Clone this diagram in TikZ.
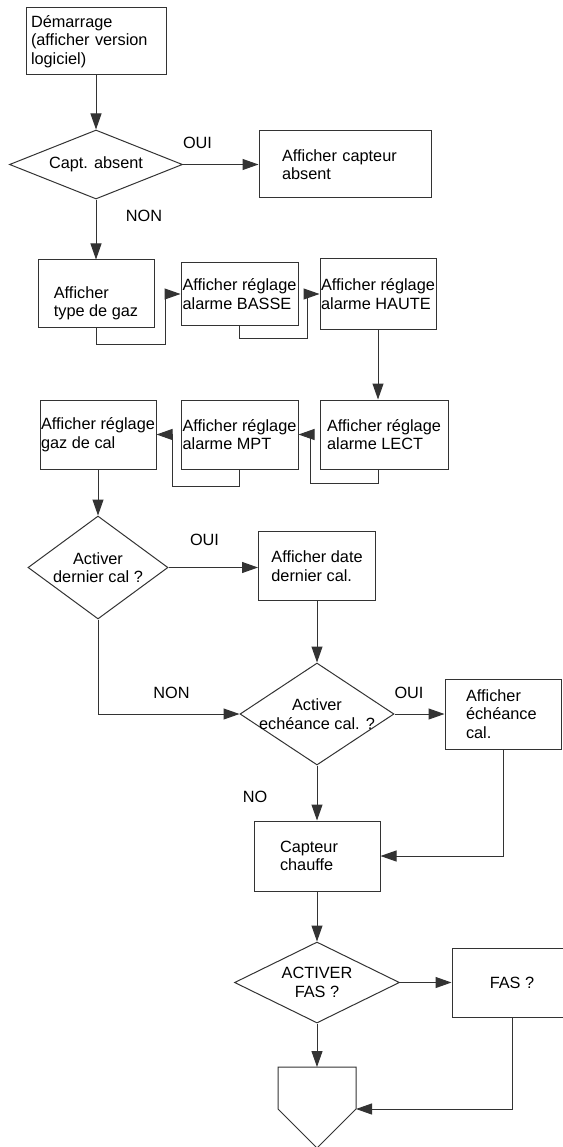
\documentclass[tikz,border=0pt]{standalone}
\usepackage{fontspec}
\setmainfont{Liberation Sans}
\usetikzlibrary{arrows.meta,shapes.geometric}
\tikzset{
  >={Triangle[length=16pt,width=11pt]},
  font=\fontsize{16.3pt}{18.5pt}\selectfont,
  boite/.style ={draw=black!80, line width=1pt, rectangle, inner sep=0pt, align=left},
  choix/.style ={draw=black!80, line width=1pt, diamond, aspect=1.5, inner xsep=-20pt, inner ysep=0pt, align=center},
  lien/.style  ={draw=black!80, line width=1pt},
  arr/.style   ={->, lien},
  lbl/.style   ={inner sep=0pt},
}

\begin{document}
\begin{tikzpicture}[x=1pt, y=-1pt]
  \path[use as bounding box, fill=white] (0,0) rectangle (562,1147);

  % demarrage
  \node[boite, minimum width=140pt, minimum height=67pt, text width=130pt, inner xsep=5pt] (demarrage) at (96,41.5) {Démarrage\\(afficher version\\logiciel)};
  \node[choix, minimum width=173pt, minimum height=69pt] (absent) at (96,164.5) {Capt. absent};
  \node[boite, minimum width=172pt, minimum height=67pt, text width=126pt, inner xsep=23pt] (capabs) at (345,164.5) {Afficher capteur\\absent};

  % reglages
  \node[boite, minimum width=116pt, minimum height=67pt] (typegaz) at (96,293.5) {\rule{0pt}{31pt}Afficher\\type de gaz};
  \node[boite, minimum width=117pt, minimum height=62pt] (basse) at (239.5,294) {Afficher réglage\\alarme BASSE};
  \node[boite, minimum width=116pt, minimum height=70pt] (haute) at (378,294) {Afficher réglage\\alarme HAUTE};
  \node[boite, minimum width=128pt, minimum height=69pt] (lect) at (384,434.5) {Afficher réglage\\alarme LECT};
  \node[boite, minimum width=117pt, minimum height=69pt] (mpt) at (239.5,434.5) {Afficher réglage\\alarme MPT};
  \node[boite, minimum width=116pt, minimum height=69pt] (calgaz) at (98,434.5) {Afficher réglage\\gaz de cal};

  % calibrage
  \node[choix, minimum width=140pt, minimum height=103pt] (dercal) at (98,567.5) {Activer\\dernier cal ?};
  \node[boite, minimum width=117pt, minimum height=69pt] (datecal) at (317,566) {Afficher date\\dernier cal.};
  \node[choix, minimum width=154pt, minimum height=102pt] (echcal) at (317,714) {Activer\\echéance cal. ?};
  \node[boite, minimum width=116pt, minimum height=70pt, text width=74pt, inner xsep=21pt] (echaff) at (503,714) {Afficher\\échéance\\cal.};
  \node[boite, minimum width=126pt, minimum height=70pt, text width=74pt, inner xsep=26pt] (chauffe) at (317,856) {Capteur\\chauffe};

  % FAS
  \node[choix, minimum width=165pt, minimum height=81pt] (actfas) at (317,982.5) {ACTIVER\\FAS ?};
  \node[boite, minimum width=120pt, minimum height=69pt, align=center] (fas) at (512,982.5) {FAS ?};
  \coordinate (renvoi) at (317,1067);
  \coordinate (renvoiE) at (356,1109);
  \draw[lien] (278,1067) -- (356,1067) -- (renvoiE) -- (317,1148) -- (278,1109) -- cycle;

  \node[lbl] (oui1) at (197.5,143) {OUI};
  \node[lbl] (non1) at (144,216) {NON};
  \node[lbl] (oui2) at (204.5,540) {OUI};
  \node[lbl] (non2) at (171.5,693) {NON};
  \node[lbl] (oui3) at (409,693) {OUI};
  \node[lbl] (no) at (255,797) {NO};

  \draw[arr] (demarrage) -- (absent);
  \draw[arr] (absent) -- (capabs);
  \draw[arr] (absent) -- (typegaz);
  \draw[arr] (typegaz.south) -- ++(0,17) -| ([xshift=-15pt]basse.west) -- (basse.west);
  \draw[arr] (basse.south) -- ++(0,13) -| ([xshift=-12pt]haute.west) -- (haute.west);
  \draw[arr] (haute) -- (haute |- lect.north);
  \draw[arr] (haute |- lect.south) -- ++(0,14) -| ([xshift=12pt]mpt.east) -- (mpt.east);
  \draw[arr] (mpt.south) -- ++(0,17) -| ([xshift=16pt]calgaz.east) -- (calgaz.east);
  \draw[arr] (calgaz) -- (dercal);
  \draw[arr] (dercal) -- (datecal.west |- dercal);
  \draw[arr] (datecal) -- (echcal);
  \draw[arr] (dercal.south) |- (echcal.west);
  \draw[arr] (echcal) -- (echaff);
  \draw[arr] (echcal) -- (chauffe);
  \draw[arr] (echaff.south) |- (chauffe.east);
  \draw[arr] (chauffe) -- (actfas);
  \draw[arr] (actfas) -- (fas);
  \draw[arr] (actfas.south) -- (renvoi);
  \draw[arr] (fas.south) |- (renvoiE);
\end{tikzpicture}
\end{document}
